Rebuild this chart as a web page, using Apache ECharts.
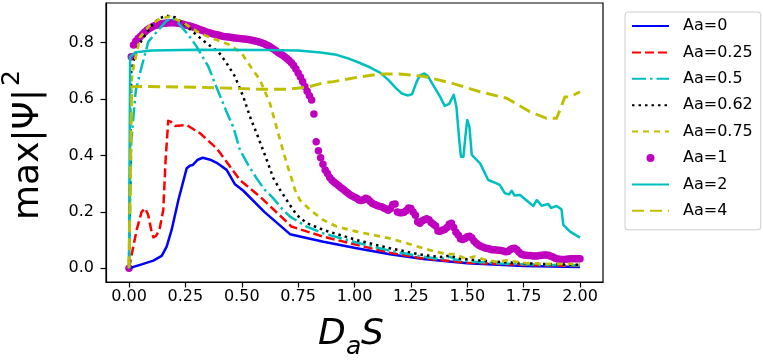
<!DOCTYPE html>
<html><head><meta charset="utf-8">
<script src="https://cdn.jsdelivr.net/npm/echarts@6/dist/echarts.min.js"></script>
<style>html,body{margin:0;padding:0;background:#fff}#c{width:763px;height:360px}</style>
</head><body><div id="c"></div>
<script>
const seriesNames = ['Aa=0','Aa=0.25','Aa=0.5','Aa=0.62','Aa=0.75','Aa=1','Aa=2','Aa=4'];
const xTicks = [0,0.25,0.5,0.75,1.0,1.25,1.5,1.75,2.0];
const yTicks = [0,0.2,0.4,0.6,0.8];

const x_Aa0 = [0,0.049,0.108,0.145,0.167,0.189,0.219,0.256,0.27,0.282,0.305,0.327,0.36,0.389,0.433,0.47,0.507,0.6,0.714,0.862,1.01,1.157,1.305,1.5,1.75,2.0];
const y_Aa0 = [0,0.012,0.027,0.044,0.077,0.136,0.242,0.355,0.364,0.366,0.385,0.392,0.385,0.374,0.349,0.298,0.275,0.2,0.121,0.094,0.071,0.05,0.033,0.018,0.008,0.005];

const x_Aa025 = [0,0.019,0.034,0.056,0.071,0.085,0.1,0.108,0.12,0.135,0.152,0.162,0.174,0.185,0.204,0.256,0.315,0.389,0.492,0.581,0.699,0.72,0.862,1.01,1.157,1.305,1.5,1.75,2.0];
const y_Aa025 = [0,0.077,0.136,0.2,0.213,0.19,0.13,0.11,0.115,0.136,0.207,0.38,0.523,0.52,0.505,0.508,0.479,0.425,0.313,0.254,0.165,0.148,0.112,0.083,0.055,0.035,0.02,0.012,0.008];

const x_Aa05 = [0,0.01,0.03,0.056,0.086,0.13,0.167,0.189,0.21,0.263,0.3,0.352,0.389,0.43,0.463,0.492,0.53,0.566,0.6,0.64,0.68,0.714,0.788,0.862,1.01,1.157,1.305,1.38,1.424,1.45,1.55,1.65,1.75,1.85,2.0];
const y_Aa05 = [0,0.45,0.63,0.715,0.804,0.845,0.878,0.887,0.878,0.828,0.786,0.715,0.64,0.56,0.5,0.419,0.365,0.319,0.28,0.248,0.21,0.183,0.148,0.124,0.091,0.062,0.041,0.033,0.041,0.03,0.022,0.017,0.014,0.012,0.01];

const x_Aa062 = [0,0.01,0.034,0.063,0.078,0.1,0.13,0.167,0.204,0.241,0.3,0.344,0.396,0.433,0.47,0.507,0.54,0.566,0.611,0.64,0.67,0.714,0.744,0.788,0.862,1.01,1.157,1.305,1.38,1.424,1.46,1.55,1.65,1.75,1.85,2.0];
const y_Aa062 = [0,0.7,0.78,0.816,0.835,0.86,0.885,0.896,0.89,0.869,0.827,0.798,0.768,0.727,0.68,0.608,0.53,0.479,0.384,0.32,0.278,0.224,0.189,0.16,0.136,0.1,0.071,0.047,0.04,0.045,0.035,0.028,0.022,0.018,0.015,0.012];

const x_Aa075 = [0,0.01,0.019,0.049,0.09,0.137,0.18,0.234,0.315,0.389,0.448,0.5,0.544,0.581,0.625,0.67,0.7,0.721,0.736,0.758,0.803,0.862,0.921,1.01,1.083,1.157,1.231,1.305,1.357,1.409,1.446,1.49,1.534,1.571,1.631,1.675,1.764,1.85,2.0];
const y_Aa075 = [0,0.66,0.709,0.82,0.86,0.885,0.893,0.874,0.833,0.81,0.792,0.762,0.709,0.668,0.585,0.455,0.37,0.319,0.278,0.242,0.207,0.171,0.148,0.13,0.118,0.106,0.089,0.071,0.059,0.051,0.05,0.035,0.042,0.032,0.023,0.028,0.018,0.016,0.015];

const x_Aa1 = [0,0.01,0.02,0.03,0.04,0.05,0.06,0.07,0.08,0.09,0.1,0.11,0.12,0.13,0.14,0.15,0.16,0.17,0.18,0.19,0.2,0.21,0.22,0.23,0.24,0.25,0.26,0.27,0.28,0.29,0.3,0.31,0.32,0.33,0.34,0.35,0.36,0.37,0.38,0.39,0.4,0.41,0.42,0.43,0.44,0.45,0.46,0.47,0.48,0.49,0.5,0.51,0.52,0.53,0.54,0.55,0.56,0.57,0.58,0.59,0.6,0.61,0.62,0.63,0.64,0.65,0.66,0.67,0.68,0.69,0.7,0.71,0.72,0.73,0.74,0.75,0.76,0.77,0.78,0.79,0.8,0.81,0.82,0.83,0.84,0.85,0.86,0.87,0.88,0.89,0.9,0.91,0.92,0.93,0.94,0.95,0.96,0.97,0.98,0.99,1.0,1.01,1.02,1.03,1.04,1.05,1.06,1.07,1.08,1.09,1.1,1.11,1.12,1.13,1.14,1.15,1.16,1.17,1.18,1.19,1.2,1.21,1.22,1.23,1.24,1.25,1.26,1.27,1.28,1.29,1.3,1.31,1.32,1.33,1.34,1.35,1.36,1.37,1.38,1.39,1.4,1.41,1.42,1.43,1.44,1.45,1.46,1.47,1.48,1.49,1.5,1.51,1.52,1.53,1.54,1.55,1.56,1.57,1.58,1.59,1.6,1.61,1.62,1.63,1.64,1.65,1.66,1.67,1.68,1.69,1.7,1.71,1.72,1.73,1.74,1.75,1.76,1.77,1.78,1.79,1.8,1.81,1.82,1.83,1.84,1.85,1.86,1.87,1.88,1.89,1.9,1.91,1.92,1.93,1.94,1.95,1.96,1.97,1.98,1.99,2.0];
const y_Aa1 = [0,0.75,0.792,0.805,0.815,0.822,0.83,0.838,0.845,0.85,0.855,0.859,0.862,0.864,0.866,0.868,0.869,0.87,0.871,0.871,0.871,0.87,0.869,0.867,0.865,0.863,0.861,0.859,0.857,0.854,0.851,0.848,0.845,0.842,0.839,0.836,0.834,0.832,0.83,0.828,0.826,0.824,0.822,0.821,0.82,0.819,0.818,0.817,0.816,0.815,0.814,0.813,0.812,0.811,0.81,0.808,0.806,0.804,0.802,0.799,0.796,0.792,0.788,0.783,0.778,0.772,0.766,0.761,0.756,0.75,0.744,0.737,0.729,0.719,0.707,0.693,0.678,0.662,0.645,0.628,0.612,0.597,0.547,0.449,0.417,0.392,0.369,0.349,0.336,0.322,0.312,0.305,0.299,0.293,0.286,0.28,0.273,0.267,0.261,0.256,0.252,0.248,0.242,0.24,0.243,0.248,0.245,0.237,0.23,0.226,0.223,0.22,0.218,0.214,0.21,0.206,0.212,0.226,0.228,0.2,0.197,0.197,0.199,0.205,0.214,0.212,0.2,0.188,0.165,0.16,0.168,0.172,0.176,0.172,0.162,0.156,0.15,0.132,0.131,0.135,0.138,0.145,0.156,0.16,0.145,0.128,0.118,0.105,0.102,0.106,0.112,0.114,0.108,0.097,0.089,0.083,0.078,0.075,0.072,0.07,0.068,0.066,0.066,0.065,0.064,0.063,0.061,0.059,0.06,0.066,0.07,0.071,0.066,0.057,0.05,0.047,0.046,0.045,0.045,0.044,0.044,0.044,0.045,0.046,0.047,0.047,0.046,0.043,0.04,0.036,0.033,0.032,0.031,0.031,0.032,0.033,0.034,0.034,0.034,0.034,0.034];

const x_Aa2 = [0,0.005,0.03,0.1,0.3,0.6,0.75,0.85,0.92,0.98,1.024,1.07,1.113,1.15,1.185,1.21,1.235,1.255,1.275,1.29,1.31,1.325,1.345,1.38,1.4,1.42,1.44,1.452,1.465,1.472,1.483,1.492,1.5,1.51,1.52,1.557,1.593,1.63,1.645,1.667,1.685,1.697,1.71,1.734,1.793,1.808,1.83,1.859,1.872,1.88,1.896,1.918,1.926,1.956,2.0];
const y_Aa2 = [0,0.75,0.766,0.772,0.775,0.774,0.772,0.765,0.757,0.742,0.728,0.712,0.694,0.668,0.638,0.62,0.613,0.617,0.66,0.684,0.691,0.682,0.655,0.608,0.576,0.583,0.615,0.573,0.45,0.396,0.396,0.47,0.526,0.5,0.402,0.372,0.313,0.301,0.295,0.266,0.262,0.275,0.258,0.26,0.221,0.242,0.222,0.228,0.214,0.212,0.221,0.209,0.154,0.13,0.109];

const x_Aa4 = [0,0.012,0.05,0.315,0.58,0.7,0.79,0.862,0.906,1.01,1.113,1.157,1.2,1.305,1.424,1.557,1.675,1.778,1.852,1.896,1.911,1.933,1.956,2.0];
const y_Aa4 = [0,0.644,0.645,0.642,0.635,0.635,0.642,0.658,0.662,0.677,0.689,0.689,0.689,0.681,0.658,0.626,0.603,0.555,0.532,0.532,0.561,0.608,0.608,0.626];

const pairs = (xs, ys) => xs.map((x, i) => [x, ys[i]]);
const FONT = 'DejaVu Sans';

function lineSeries(name, xs, ys, color, type, width) {
  return {
    name, type: 'line', data: pairs(xs, ys), symbol: 'none', showSymbol: false,
    lineStyle: { color, width, type, cap: 'butt', join: 'round' },
    itemStyle: { color }, silent: true
  };
}

const legendData = seriesNames.map(n => n === 'Aa=1'
  ? { name: n }
  : { name: n, itemStyle: { opacity: 0, color: 'transparent', borderWidth: 0 } });

const chart = echarts.init(document.getElementById('c'), null, { renderer: 'canvas' });
chart.setOption({
  animation: false,
  backgroundColor: '#ffffff',
  grid: { left: 106, top: 3, width: 497, height: 279, show: true, borderColor: '#000', borderWidth: 1.2, backgroundColor: 'transparent' },
  xAxis: {
    type: 'value', min: -0.102, max: 2.102,
    axisLine: { show: true, onZero: false, lineStyle: { color: '#000', width: 1.2 } },
    axisTick: { show: true, length: 5.5, customValues: xTicks, lineStyle: { color: '#000', width: 1.2 } },
    axisLabel: { customValues: xTicks, formatter: v => v.toFixed(2), fontFamily: FONT, fontSize: 16, color: '#000', margin: 7 },
    splitLine: { show: false }
  },
  yAxis: {
    type: 'value', min: -0.0486, max: 0.9408,
    axisLine: { show: true, onZero: false, lineStyle: { color: '#000', width: 1.2 } },
    axisTick: { show: true, length: 5.5, customValues: yTicks, lineStyle: { color: '#000', width: 1.2 } },
    axisLabel: { customValues: yTicks, formatter: v => v.toFixed(1), fontFamily: FONT, fontSize: 16, color: '#000', margin: 12 },
    splitLine: { show: false }
  },
  legend: {
    orient: 'vertical', left: 625, top: 12,
    padding: [6, 8, 11, 6], itemGap: 10.4, itemWidth: 37, itemHeight: 8,
    backgroundColor: '#fff', borderColor: '#cccccc', borderWidth: 1, borderRadius: 3,
    textStyle: { fontFamily: FONT, fontSize: 16, color: '#000', lineHeight: 16, padding: [0, 0, 0, 9] },
    data: legendData
  },
  series: [
    lineSeries('Aa=0', x_Aa0, y_Aa0, '#0000ff', 'solid', 2.5),
    lineSeries('Aa=0.25', x_Aa025, y_Aa025, '#ff0000', [9, 4], 2.5),
    lineSeries('Aa=0.5', x_Aa05, y_Aa05, '#00bfbf', [14, 4, 2.5, 4], 2.5),
    lineSeries('Aa=0.62', x_Aa062, y_Aa062, '#000000', [2.5, 4], 2.5),
    lineSeries('Aa=0.75', x_Aa075, y_Aa075, '#bfbf00', [6, 5], 2.7),
    { name: 'Aa=1', type: 'scatter', data: pairs(x_Aa1, y_Aa1), symbol: 'circle', symbolSize: 7.5,
      itemStyle: { color: '#bf00bf', opacity: 1 }, silent: true },
    lineSeries('Aa=2', x_Aa2, y_Aa2, '#00bfbf', 'solid', 2.5),
    lineSeries('Aa=4', x_Aa4, y_Aa4, '#bfbf00', [12, 6], 2.9)
  ],
  graphic: [
    { type: 'group', x: 47, y: 220, rotation: Math.PI / 2, children: [
      { type: 'text', x: 0, y: 0, style: { text: 'max|Ψ|', font: '36px "DejaVu Sans"', fill: '#000', align: 'left', verticalAlign: 'bottom' } },
      { type: 'text', x: 134, y: -22, style: { text: '2', font: '25px "DejaVu Sans"', fill: '#000', align: 'left', verticalAlign: 'bottom' } }
    ] },
    { type: 'text', x: 318, y: 353, style: { text: 'D', font: 'italic 36px "DejaVu Sans"', fill: '#000', align: 'left', verticalAlign: 'bottom' } },
    { type: 'text', x: 346, y: 360, style: { text: 'a', font: 'italic 25px "DejaVu Sans"', fill: '#000', align: 'left', verticalAlign: 'bottom' } },
    { type: 'text', x: 361, y: 353, style: { text: 'S', font: 'italic 36px "DejaVu Sans"', fill: '#000', align: 'left', verticalAlign: 'bottom' } }
  ]
});
</script></body></html>
